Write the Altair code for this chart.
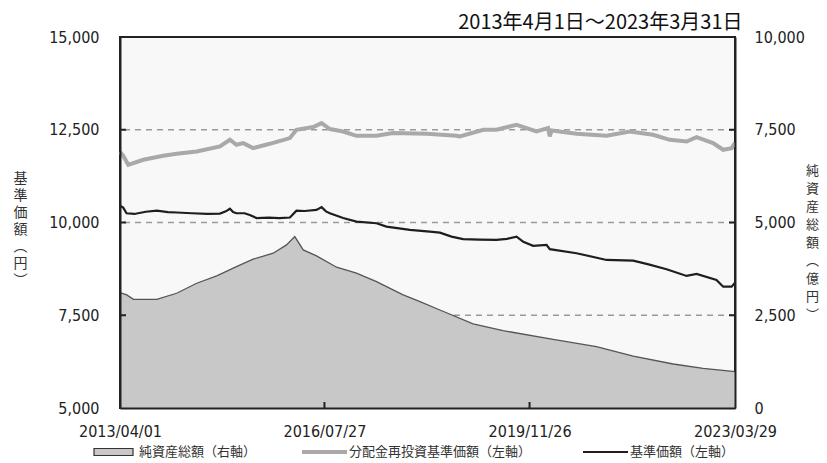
import altair as alt
import pandas as pd

# ---- data ----
nav_dates = ["2013-04-01", "2013-04-20", "2013-05-10", "2013-06-25", "2013-09-01", "2013-11-05",
             "2014-01-10", "2014-03-03", "2014-06-01", "2014-09-01", "2014-11-15", "2014-12-20",
             "2015-01-13", "2015-02-01", "2015-02-21", "2015-04-10", "2015-05-11", "2015-06-20",
             "2015-09-01", "2015-11-01", "2016-01-04", "2016-02-12", "2016-04-01", "2016-06-10",
             "2016-07-10", "2016-08-05", "2016-08-28", "2016-11-15", "2017-02-02", "2017-06-01",
             "2017-07-30", "2017-12-16", "2018-04-13", "2018-06-12", "2018-08-20", "2018-10-28",
             "2019-02-01", "2019-05-14", "2019-07-15", "2019-09-10", "2019-10-20", "2019-12-17",
             "2020-03-06", "2020-03-25", "2020-08-31", "2021-02-25", "2021-08-02", "2021-11-01",
             "2022-02-16", "2022-06-15", "2022-08-13", "2022-12-09", "2023-01-18", "2023-03-09",
             "2023-03-29"]
nav_values = [10450, 10400, 10250, 10230, 10290, 10320,
              10280, 10270, 10250, 10230, 10240, 10300,
              10370, 10280, 10250, 10250, 10200, 10120,
              10130, 10120, 10135, 10320, 10310, 10340,
              10415, 10300, 10250, 10120, 10025, 9980,
              9890, 9800, 9755, 9728, 9620, 9550,
              9540, 9530, 9560, 9620, 9480, 9370,
              9395, 9280, 9172, 8990, 8973, 8870,
              8740, 8560, 8614, 8450, 8270, 8270,
              8380]

reinv_dates = ["2013-04-01", "2013-04-20", "2013-05-20", "2013-08-17", "2013-12-14", "2014-03-03",
               "2014-06-30", "2014-11-15", "2015-01-13", "2015-02-21", "2015-04-02", "2015-05-31",
               "2015-09-07", "2016-01-04", "2016-02-12", "2016-05-21", "2016-07-10", "2016-08-28",
               "2016-11-15", "2017-02-02", "2017-06-01", "2017-09-07", "2018-03-26", "2018-09-19",
               "2018-10-08", "2019-02-25", "2019-05-14", "2019-09-10", "2020-01-06", "2020-03-15",
               "2020-03-25", "2020-04-05", "2020-08-31", "2021-02-25", "2021-07-13", "2021-11-28",
               "2022-03-07", "2022-06-15", "2022-08-13", "2022-11-19", "2023-01-18", "2023-03-09",
               "2023-03-29"]
reinv_values = [11900, 11800, 11555, 11690, 11797, 11851,
                11913, 12050, 12230, 12094, 12140, 12005,
                12121, 12275, 12500, 12572, 12680, 12518,
                12453, 12337, 12337, 12410, 12391, 12337,
                12319, 12500, 12500, 12635, 12453, 12545,
                12319, 12480, 12391, 12337, 12453, 12364,
                12229, 12183, 12302, 12140, 11960, 12005,
                12150]

asset_dates = ["2013-04-01", "2013-05-11", "2013-06-20", "2013-11-05", "2014-03-03", "2014-06-30",
               "2014-10-27", "2015-02-21", "2015-05-31", "2015-09-27", "2015-12-15", "2016-02-02",
               "2016-03-23", "2016-06-10", "2016-10-07", "2017-02-02", "2017-06-01", "2017-11-06",
               "2018-02-14", "2018-06-12", "2018-12-26", "2019-06-22", "2020-04-14", "2020-12-27",
               "2021-08-02", "2022-03-27", "2022-09-21", "2023-03-29"]
asset_values = [3110, 3047, 2930, 2930, 3093, 3363,
                3560, 3811, 4011, 4172, 4396, 4620,
                4261, 4100, 3795, 3633, 3406, 3047,
                2866, 2642, 2265, 2084, 1852, 1652,
                1401, 1186, 1070, 978]

left_ticks = [5000, 7500, 10000, 12500, 15000]
right_ticks = [0, 2500, 5000, 7500, 10000]
grid_values = [7500, 10000, 12500]
x_label_dates = [(2013, 4, 1), (2016, 7, 27), (2019, 11, 26), (2023, 3, 29)]
inner_x_ticks = ["2016-07-27", "2019-11-26"]
legend_labels = ["純資産総額（右軸）", "分配金再投資基準価額（左軸）", "基準価額（左軸）"]
title_text = "2013年4月1日～2023年3月31日"
left_title = ["基", "準", "価", "額", "︵", "円", "︶"]
right_title = ["純", "資", "産", "総", "額", "︵", "億", "円", "︶"]

# ---- layout / style ----
W, H = 615, 371
NUM_FONT = "DejaVu Sans Condensed"
JP_FONT = "Noto Sans CJK JP"
AREA_FILL = "#c8c8c8"
GRAY_LINE = "#a9a9a9"
BLACK_LINE = "#1e1e1e"

nav_df = pd.DataFrame({"date": nav_dates, "value": nav_values})
reinv_df = pd.DataFrame({"date": reinv_dates, "value": reinv_values})
asset_df = pd.DataFrame({"date": asset_dates, "assets": asset_values})
grid_df = pd.DataFrame({"value": grid_values})
xt_df = pd.DataFrame({"date": inner_x_ticks})


def dt(t):
    return alt.DateTime(year=t[0], month=t[1], date=t[2], utc=True)


xscale = alt.Scale(type="utc", domain=[dt(x_label_dates[0]), dt(x_label_dates[-1])])
xaxis = alt.Axis(values=[dt(t) for t in x_label_dates], format="%Y/%m/%d", title=None,
                 grid=False, ticks=False, labelFlush=False, labelOverlap=False,
                 labelFont=NUM_FONT, labelFontSize=16, labelColor="#222", labelPadding=15,
                 domainColor="#222", domainWidth=2, zindex=1)
X = alt.X("date:T", scale=xscale, axis=xaxis)

left_scale = alt.Scale(domain=[5000, 15000], nice=False, zero=False)
right_scale = alt.Scale(domain=[0, 10000], nice=False)

left_axis = alt.Axis(orient="left", values=left_ticks, format=",.0f", grid=False, ticks=False,
                     labelFont=NUM_FONT, labelFontSize=16, labelColor="#222", labelPadding=21,
                     domainColor="#222", domainWidth=2, zindex=1,
                     title=left_title, titleAngle=0, titleX=-100, titleY=141,
                     titleAlign="center", titleBaseline="middle", titleLineHeight=17,
                     titleFont=JP_FONT, titleFontSize=14, titleFontWeight="normal",
                     titleColor="#333")
right_axis = alt.Axis(orient="right", values=right_ticks, format=",.0f", grid=False, ticks=False,
                      labelFont=NUM_FONT, labelFontSize=16, labelColor="#222", labelPadding=19,
                      domainColor="#222", domainWidth=2, zindex=1,
                      title=right_title, titleAngle=0, titleX=77, titleY=133,
                      titleAlign="center", titleBaseline="middle", titleLineHeight=18,
                      titleFont=JP_FONT, titleFontSize=13, titleFontWeight="normal",
                      titleColor="#333")

# grid (drawn beneath the area)
grid = alt.Chart(grid_df).mark_rule(color="#9a9a9a", strokeWidth=1.6, strokeDash=[6, 5]).encode(
    y=alt.Y("value:Q", scale=left_scale, axis=None)
)

# net assets area (right axis)
area = alt.Chart(asset_df).mark_area(color=AREA_FILL, opacity=1).encode(
    x=X, y=alt.Y("assets:Q", scale=right_scale, axis=right_axis)
)
area_edge = alt.Chart(asset_df).mark_line(color="#555", strokeWidth=1.3).encode(
    x=X, y=alt.Y("assets:Q", scale=right_scale, axis=right_axis)
)
area_group = alt.layer(area, area_edge)

# price lines (left axis)
YL = alt.Y("value:Q", scale=left_scale, axis=left_axis)
reinv_line = alt.Chart(reinv_df).mark_line(color=GRAY_LINE, strokeWidth=4).encode(x=X, y=YL)
nav_line = alt.Chart(nav_df).mark_line(color=BLACK_LINE, strokeWidth=2.2).encode(x=X, y=YL)

left_in_ticks = alt.Chart(grid_df).mark_rule(color="#222", strokeWidth=2).encode(
    y=YL, x=alt.value(0), x2=alt.value(6))
right_in_ticks = alt.Chart(grid_df).mark_rule(color="#222", strokeWidth=2).encode(
    y=YL, x=alt.value(W - 6), x2=alt.value(W))
bottom_in_ticks = alt.Chart(xt_df).mark_rule(color="#222", strokeWidth=2).encode(
    x=X, y=alt.value(H - 6), y2=alt.value(H))

# manual legend
LY = 415
leg0 = pd.DataFrame({"label": [legend_labels[0]]})
leg1 = pd.DataFrame({"label": [legend_labels[1]]})
leg2 = pd.DataFrame({"label": [legend_labels[2]]})
sw0 = alt.Chart(leg0).mark_rect(fill=AREA_FILL, stroke="#333", strokeWidth=1.2).encode(
    x=alt.value(-26), x2=alt.value(13), y=alt.value(LY - 3.5), y2=alt.value(LY + 3.5))
sw1 = alt.Chart(leg1).mark_rule(color=GRAY_LINE, strokeWidth=4).encode(
    x=alt.value(182), x2=alt.value(227), y=alt.value(LY))
sw2 = alt.Chart(leg2).mark_rule(color=BLACK_LINE, strokeWidth=2.2).encode(
    x=alt.value(463), x2=alt.value(508), y=alt.value(LY))
txt_kw = dict(align="left", baseline="middle", font=JP_FONT, fontSize=13, color="#333")
t0 = alt.Chart(leg0).mark_text(**txt_kw).encode(text="label:N", x=alt.value(19), y=alt.value(LY))
t1 = alt.Chart(leg1).mark_text(**txt_kw).encode(text="label:N", x=alt.value(229), y=alt.value(LY))
t2 = alt.Chart(leg2).mark_text(**txt_kw).encode(text="label:N", x=alt.value(510), y=alt.value(LY))

lines_group = alt.layer(reinv_line, nav_line, left_in_ticks, right_in_ticks, bottom_in_ticks,
                        sw0, sw1, sw2, t0, t1, t2)

chart = alt.layer(grid, area_group, lines_group).resolve_scale(y="independent").properties(
    width=W, height=H,
    autosize=alt.AutoSizeParams(type="none"),
    padding={"left": 112, "top": 29, "right": 84, "bottom": 54},
    title=alt.TitleParams(title_text, anchor="end", font=JP_FONT, fontSize=20,
                          fontWeight="normal", color="#111", offset=-4, dx=-76),
    background="white",
).configure_view(fill="#f8f8f8", stroke="#222", strokeWidth=2)

chart.save("out.html", embed_options={"renderer": "svg", "actions": False})
